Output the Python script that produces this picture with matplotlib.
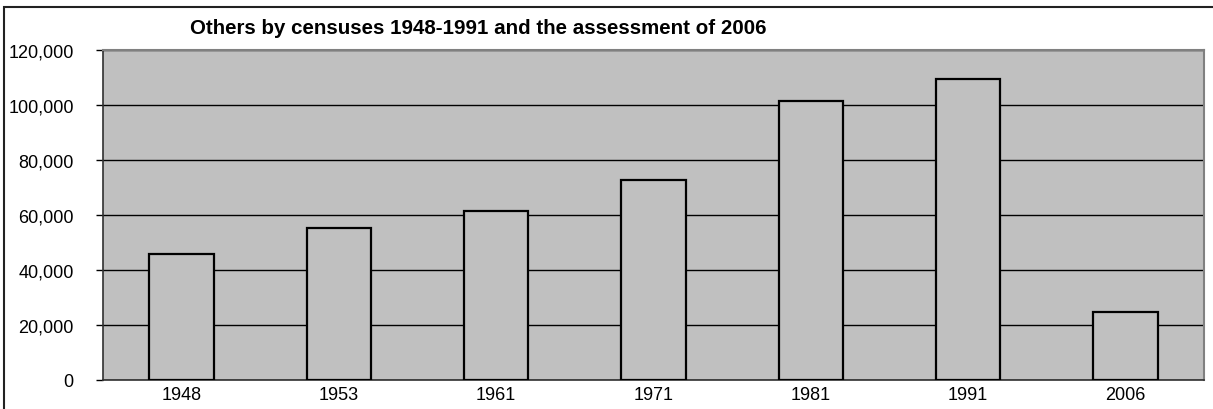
import matplotlib
matplotlib.use("Agg")
from matplotlib import pyplot as plt
from matplotlib.patches import Rectangle
from matplotlib.ticker import FuncFormatter

years = ["1948", "1953", "1961", "1971", "1981", "1991", "2006"]
others = [45800, 55300, 61600, 72700, 101500, 109600, 24800]

plt.rcParams['font.family'] = ['Liberation Sans', 'DejaVu Sans']

fig = plt.figure(figsize=(12.13, 4.10), dpi=100)
fig.patch.set_facecolor("white")
# outer chart frame
fig.patches.append(Rectangle((4 / 1213, -0.1), 1.2, (1 - 8 / 410) + 0.1,
                             transform=fig.transFigure, fill=False,
                             edgecolor="#222222", linewidth=1.5))

ax = fig.add_axes([103 / 1213, 1 - 381 / 410, 1101 / 1213, 330 / 410])
ax.set_facecolor("#C0C0C0")
x = range(len(years))
ax.bar(x, others, width=0.41, color="#C0C0C0", edgecolor="black",
       linewidth=1.6, zorder=3)
ax.set_xlim(-0.5, len(years) - 0.5)
ax.set_ylim(0, 120000)
ax.set_yticks(range(0, 120001, 20000))
ax.yaxis.set_major_formatter(FuncFormatter(lambda v, p: f"{int(v):,}"))
ax.set_xticks(list(x))
ax.set_xticklabels(years)
ax.grid(axis="y", color="black", linewidth=1.0, zorder=1)
ax.set_axisbelow(True)
ax.tick_params(axis="y", length=5, width=1, labelsize=13, pad=16)
ax.tick_params(axis="x", length=0, labelsize=13, pad=4)
for s in ["left", "bottom"]:
    ax.spines[s].set_color("#303030")
    ax.spines[s].set_linewidth(1.2)
for s in ["top", "right"]:
    ax.spines[s].set_color("#808080")
    ax.spines[s].set_linewidth(1.5)

fig.text(190 / 1213, 1 - 28 / 410, "Others by censuses 1948-1991 and the assessment of 2006",
         fontsize=14.8, fontweight="bold", ha="left", va="center")

fig.savefig("out.png", dpi=100)
